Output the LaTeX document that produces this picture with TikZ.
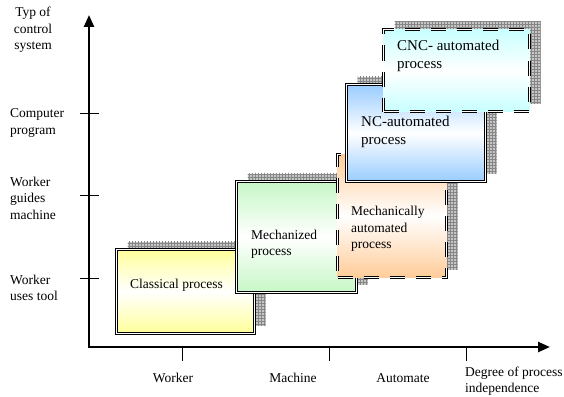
\documentclass[tikz,border=0pt]{standalone}
\usepackage{fontspec}
\setmainfont{Liberation Serif}
\usetikzlibrary{arrows.meta,shadows,patterns}

\definecolor{procyellow}{HTML}{FFFF99}
\definecolor{procgreen}{HTML}{C6F7C6}
\definecolor{procorange}{HTML}{FFCC99}
\definecolor{procblue}{HTML}{99CCFF}
\definecolor{proccyan}{HTML}{C8FFFF}

\tikzset{
  proc/.style={draw, double, line width=1.1pt, double distance=1.3pt, inner sep=0pt,
    top color=#1, bottom color=#1, middle color=white,
    general shadow={fill=gray!45, shadow xshift=11pt, shadow yshift=8pt},
    general shadow={pattern=grid, pattern color=gray!95, shadow xshift=11pt, shadow yshift=8pt}},
  autoproc/.style={proc=#1, dash pattern=on 15pt off 11pt},
  txt/.style={font=\fontsize{13.5}{16.5}\selectfont, align=left, inner sep=0pt},
  bigtxt/.style={font=\fontsize{15}{18.5}\selectfont, align=left, inner sep=0pt},
  axis/.style={line width=2.4pt, {Triangle[length=12pt,width=10pt]}-{Triangle[length=12pt,width=10pt]}},
  axtick/.style={line width=0.9pt}
}

\begin{document}
\begin{tikzpicture}[x=1pt, y=-1pt]
\useasboundingbox (0,0) rectangle (564,396);

% axes
\coordinate (origin) at (89,347);
\coordinate (ytop) at (89,15);
\coordinate (xend) at (550,347);
\draw[axis] (ytop) -- (origin) -- (xend);

% ticks on the control axis
\foreach \y/\n in {113/c3, 195/c2, 278/c1} {
  \coordinate (\n-l) at (80,\y);
  \coordinate (\n-r) at (99,\y);
  \draw[axtick] (\n-l) -- (\n-r);
}
% ticks on the independence axis
\foreach \x/\n in {182/d1, 329/d2, 466/d3} {
  \coordinate (\n-t) at (\x,347);
  \coordinate (\n-b) at (\x,361);
  \draw[axtick] (\n-t) -- (\n-b);
}

% axis labels
\node[txt, align=center] (ylab) at (33,30) {Typ of\\control\\system};
\node[txt, anchor=west] (lvl3) at (10,123) {Computer\\program};
\node[txt, anchor=west] (lvl2) at (10,198) {Worker\\guides\\machine};
\node[txt, anchor=west] (lvl1) at (10,288) {Worker\\uses tool};
\node[txt] (deg1) at (173,378) {Worker};
\node[txt] (deg2) at (293,378) {Machine};
\node[txt] (deg3) at (403,378) {Automate};
\node[txt, anchor=west] (xlab) at (465,381) {Degree of process\\independence};

% process boxes
\node[proc=procyellow, minimum width=138pt, minimum height=84pt] (classic) at (185.5,291.5) {};
\node[txt, anchor=west] (classic-t) at (130,285) {Classical process};

\node[proc=procgreen, minimum width=120pt, minimum height=111pt] (mech) at (296.5,237) {};
\node[txt, anchor=west] (mech-t) at (251,244) {Mechanized\\process};

\node[autoproc=procorange, minimum width=109pt, minimum height=123pt] (mauto) at (392,216) {};
\node[txt, anchor=west] (mauto-t) at (351,229) {Mechanically\\automated\\process};

\node[proc=procblue, minimum width=139pt, minimum height=97pt] (nc) at (416,133) {};
\node[bigtxt, anchor=west] (nc-t) at (361,132) {NC-automated\\process};

\node[autoproc=proccyan, minimum width=146pt, minimum height=82pt] (cnc) at (456.5,70.5) {};
\node[bigtxt, anchor=west] (cnc-t) at (397,56) {CNC- automated\\process};
\end{tikzpicture}
\end{document}
